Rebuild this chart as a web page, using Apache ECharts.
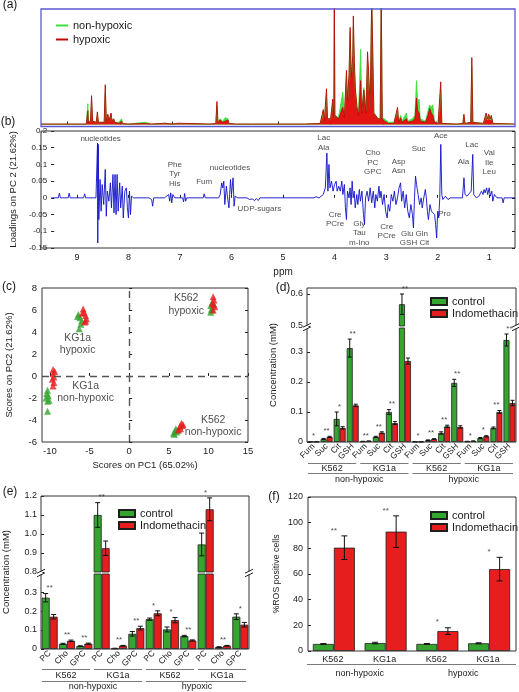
<!DOCTYPE html>
<html><head><meta charset="utf-8">
<script src="https://cdn.jsdelivr.net/npm/echarts@6/dist/echarts.min.js"></script>
<style>html,body{margin:0;padding:0;background:#fff}#c{width:519px;height:692px}</style>
</head><body><div id="c"></div>
<script>
// ---------------- DATA ----------------
const ppmTicks = [9, 8, 7, 6, 5, 4, 3, 2, 1];

// (a) mean NMR spectra, [ppm, relative intensity]
const spectrumNonHypoxic = [
 [9.5,0.004],[9.42,0.004],[9.4,0.012],[9.38,0.004],[9.22,0.004],[9.2,0.01],[9.18,0.004],[8.92,0.004],[8.9,0.01],[8.88,0.004],
 [8.64,0.004],[8.61,0.18],[8.6,0.03],[8.56,0.03],[8.54,0.2],[8.52,0.03],[8.45,0.02],[8.43,0.08],[8.41,0.02],[8.3,0.02],[8.28,0.28],[8.26,0.03],
 [8.23,0.08],[8.21,0.03],[8.17,0.09],[8.15,0.03],[8.12,0.05],[8.1,0.02],[8.02,0.02],[7.97,0.05],[7.95,0.01],[7.85,0.004],[7.52,0.02],[7.4,0.004],
 [7.2,0.01],[7.15,0.012],[7.0,0.004],[6.9,0.01],[6.5,0.006],[6.3,0.004],[6.18,0.01],[6.16,0.16],[6.14,0.02],[6.1,0.05],[6.05,0.03],[6.0,0.06],
 [5.95,0.05],[5.93,0.01],[5.8,0.004],[5.5,0.004],[5.0,0.004],[4.5,0.004],
 [4.2,0.01],[4.14,0.1],[4.12,0.03],[4.08,0.25],[4.06,0.05],[4.0,0.05],[3.96,0.2],[3.94,0.05],[3.93,1.1],[3.92,0.08],[3.85,0.06],[3.77,0.28],
 [3.74,0.08],[3.7,0.42],[3.68,0.2],[3.65,0.42],[3.63,0.8],[3.61,0.4],[3.58,0.55],[3.57,0.85],[3.55,0.5],[3.53,0.3],[3.5,0.15],[3.47,0.1],
 [3.43,0.65],[3.41,0.12],[3.37,0.32],[3.33,0.12],[3.3,0.55],[3.28,0.4],[3.25,0.15],[3.22,1.1],[3.2,1.1],[3.18,0.1],[3.1,0.05],[3.06,0.05],
 [3.04,1.1],[3.02,0.06],[2.98,0.05],[2.95,0.06],[2.9,0.02],[2.8,0.02],[2.73,0.12],[2.71,0.03],[2.67,0.08],[2.65,0.03],[2.56,0.1],[2.54,0.03],
 [2.45,0.05],[2.4,0.08],[2.37,0.38],[2.35,0.2],[2.32,0.22],[2.3,0.05],[2.2,0.03],[2.15,0.12],[2.12,0.17],[2.09,0.15],[2.06,0.17],[2.03,0.03],
 [1.96,0.01],[1.91,0.3],[1.89,0.01],[1.6,0.004],[1.49,0.01],[1.47,0.07],[1.45,0.01],[1.34,0.02],[1.32,0.5],[1.3,0.02],[1.1,0.01],[1.05,0.08],
 [1.02,0.04],[1.0,0.08],[0.97,0.04],[0.95,0.07],[0.92,0.01],[0.5,0.004]
];
const spectrumHypoxic = [
 [9.5,0.005],[9.42,0.005],[9.4,0.015],[9.38,0.005],[9.22,0.005],[9.2,0.012],[9.18,0.005],[8.92,0.005],[8.9,0.012],[8.88,0.005],
 [8.64,0.005],[8.61,0.12],[8.6,0.02],[8.56,0.03],[8.54,0.25],[8.52,0.03],[8.45,0.02],[8.43,0.11],[8.41,0.02],[8.3,0.02],[8.28,0.345],[8.26,0.03],
 [8.23,0.09],[8.21,0.03],[8.17,0.1],[8.15,0.03],[8.12,0.05],[8.1,0.02],[8.02,0.01],[7.97,0.03],[7.95,0.01],[7.85,0.005],[7.52,0.01],[7.4,0.005],
 [7.2,0.01],[7.15,0.012],[7.0,0.005],[6.9,0.012],[6.5,0.008],[6.3,0.005],[6.18,0.01],[6.16,0.2],[6.14,0.02],[6.1,0.04],[6.05,0.02],[6.0,0.03],
 [5.95,0.04],[5.93,0.01],[5.8,0.005],[5.5,0.005],[5.0,0.005],[4.5,0.005],
 [4.2,0.01],[4.14,0.13],[4.12,0.03],[4.08,0.31],[4.06,0.05],[4.0,0.05],[3.96,0.22],[3.94,0.05],[3.93,1.1],[3.92,0.08],[3.85,0.05],[3.77,0.15],
 [3.74,0.06],[3.7,0.47],[3.68,0.2],[3.65,0.45],[3.63,0.84],[3.61,0.4],[3.58,0.6],[3.57,0.94],[3.55,0.54],[3.53,0.3],[3.5,0.15],[3.47,0.08],
 [3.43,0.38],[3.41,0.1],[3.37,0.3],[3.33,0.1],[3.3,0.63],[3.28,0.46],[3.25,0.15],[3.22,1.1],[3.2,1.1],[3.18,0.1],[3.1,0.05],[3.06,0.05],
 [3.04,1.1],[3.02,0.05],[2.98,0.03],[2.95,0.04],[2.9,0.01],[2.8,0.01],[2.73,0.15],[2.71,0.02],[2.67,0.06],[2.65,0.02],[2.56,0.05],[2.54,0.02],
 [2.45,0.03],[2.4,0.05],[2.37,0.23],[2.35,0.12],[2.32,0.1],[2.3,0.03],[2.2,0.02],[2.15,0.08],[2.12,0.14],[2.09,0.1],[2.06,0.08],[2.03,0.02],
 [1.96,0.01],[1.91,0.37],[1.89,0.01],[1.6,0.005],[1.49,0.01],[1.47,0.09],[1.45,0.01],[1.34,0.02],[1.32,0.58],[1.3,0.02],[1.1,0.01],[1.05,0.1],
 [1.02,0.05],[1.0,0.09],[0.97,0.05],[0.95,0.08],[0.92,0.01],[0.5,0.005]
];

// (b) PC2 loadings, [ppm, loading]
const loadingsPC2 = [
 [9.5,0],[9.36,0],[9.34,0.014],[9.32,0],[9.17,0],[9.15,0.014],[9.13,0],[8.87,0],[8.85,0.012],[8.83,0],[8.63,0],[8.6,0.164],[8.595,-0.135],
 [8.585,0.16],[8.575,-0.065],[8.55,0.055],[8.53,-0.04],[8.51,0.04],[8.48,-0.02],[8.45,0.085],[8.43,-0.055],[8.41,0.02],[8.38,-0.01],[8.35,0.045],
 [8.33,-0.03],[8.3,0.07],[8.28,-0.045],[8.26,0.07],[8.24,-0.05],[8.22,0.07],[8.2,-0.04],[8.17,0.045],[8.15,-0.03],[8.12,0.035],[8.1,-0.06],
 [8.07,0.02],[8.04,0.03],[8.02,-0.03],[8.0,-0.06],[7.98,0.02],[7.96,-0.05],[7.94,0.005],[7.9,0],[7.6,0],[7.55,-0.005],[7.53,-0.025],[7.51,0],
 [7.3,0],[7.22,0.01],[7.2,-0.01],[7.18,0.015],[7.16,-0.015],[7.14,0.01],[7.1,0],[6.95,0],[6.93,-0.012],[6.91,0.013],[6.89,-0.01],[6.87,0],
 [6.55,0],[6.53,0.012],[6.51,0],[6.25,0],[6.22,0.01],[6.19,0.045],[6.17,0.03],[6.15,0.05],[6.13,-0.02],[6.1,0.035],[6.08,0.005],[6.05,-0.03],
 [6.02,0.055],[6.0,0.01],[5.97,0.06],[5.95,-0.025],[5.93,0.005],[5.88,0],[5.7,0],[5.65,-0.005],[5.6,-0.003],[5.55,-0.008],[5.52,-0.002],
 [5.48,-0.008],[5.45,0],[4.4,0],[4.36,0.003],[4.3,0],[4.22,0.01],[4.18,0.03],[4.15,0.134],[4.13,0.02],[4.11,0.1],[4.09,0.03],[4.06,0.05],
 [4.03,0.02],[4.0,0.04],[3.97,0.05],[3.95,0.02],[3.92,0.035],[3.89,0.02],[3.86,0.05],[3.84,0.01],[3.81,0.04],[3.79,-0.03],[3.77,-0.065],
 [3.75,0.02],[3.72,0.0],[3.7,0.03],[3.68,-0.02],[3.66,0.05],[3.64,0.0],[3.62,0.02],[3.6,-0.03],[3.57,0.01],[3.55,-0.02],[3.52,0.025],
 [3.5,-0.01],[3.47,0.02],[3.44,-0.05],[3.42,-0.08],[3.4,0.0],[3.37,0.02],[3.34,-0.01],[3.31,0.03],[3.28,-0.015],[3.25,0.02],[3.22,-0.03],
 [3.2,0.01],[3.17,-0.01],[3.14,0.035],[3.12,0.0],[3.1,0.02],[3.07,-0.02],[3.04,0.01],[3.01,-0.04],[2.98,-0.06],[2.96,-0.02],[2.93,-0.04],
 [2.9,0.01],[2.87,-0.01],[2.84,0.02],[2.81,-0.02],[2.78,0.0],[2.75,0.03],[2.72,0.045],[2.7,-0.01],[2.67,0.02],[2.64,-0.03],[2.61,0.01],
 [2.58,-0.04],[2.55,-0.06],[2.52,-0.02],[2.49,-0.05],[2.47,-0.09],[2.45,0.0],[2.43,0.065],[2.41,0.04],[2.38,0.01],[2.35,-0.02],[2.32,0.0],
 [2.3,-0.03],[2.27,0.0],[2.24,0.025],[2.22,0.0],[2.2,-0.04],[2.18,-0.065],[2.15,-0.02],[2.12,-0.04],[2.09,-0.035],[2.06,-0.05],[2.04,-0.08],
 [2.02,-0.12],[2.0,-0.04],[1.98,-0.06],[1.96,0.0],[1.94,0.16],[1.92,0.01],[1.9,-0.005],[1.85,0.005],[1.8,-0.005],[1.75,0],[1.52,0],
 [1.49,0.06],[1.47,0.01],[1.43,0.005],[1.4,0],[1.35,0.02],[1.32,0.13],[1.3,0.01],[1.25,0],[1.2,0.005],[1.15,0.02],[1.12,0.01],[1.1,0.025],
 [1.08,0.015],[1.05,0.03],[1.03,0.01],[1.0,0.03],[0.98,0.005],[0.95,0.02],[0.93,-0.01],[0.9,0.01],[0.85,0],[0.75,0],[0.73,-0.015],[0.71,0],[0.5,0]
];
const loadingLabels = [
 [8.54,0.178,'nucleotides'],[7.1,0.071,'Phe\nTyr\nHis'],[6.53,0.048,'Fum'],[6.03,0.089,'nucleotides'],[5.46,-0.033,'UDP-sugars'],
 [4.21,0.164,'Lac\nAla'],[3.99,-0.064,'Cre\nPCre'],[3.52,-0.106,'Gly\nTau\nm-Ino'],[3.26,0.105,'Cho\nPC\nGPC'],[2.99,-0.1,'Cre\nPCre'],
 [2.76,0.095,'Asp\nAsn'],[2.45,-0.121,'Glu Gln\nGSH Cit'],[2.37,0.148,'Suc'],[1.94,0.186,'Ace'],[1.87,-0.049,'Pro'],
 [1.5,0.108,'Ala'],[1.34,0.158,'Lac'],[1.0,0.105,'Val\nIle\nLeu']
];

// (c) PCA scores [PC1, PC2]
const scoresGreen = [
 [-6.4,5.6],[-6.2,5.3],[-6.0,5.0],[-6.1,4.7],[-6.3,4.3],[-6.5,5.4],
 [-10.3,-1.3],[-10.4,-1.6],[-10.2,-1.8],[-10.5,-2.0],[-10.1,-2.2],[-10.3,-2.3],[-10.3,-3.2],
 [10.3,5.8],[10.4,6.1],[10.3,6.4],[10.5,6.7],[10.4,6.0],
 [5.6,-5.2],[5.8,-5.0],[6.0,-5.1],[5.9,-4.8],[6.2,-4.9],[5.7,-5.3]
];
const scoresRed = [
 [-5.8,6.1],[-5.7,5.8],[-5.5,5.5],[-5.4,5.2],[-5.6,4.9],[-5.5,5.0],[-5.9,5.7],
 [-9.6,0.6],[-9.6,0.2],[-9.5,-0.1],[-9.7,-0.3],[-9.5,-0.6],[-9.6,-0.9],[-9.4,0.4],
 [10.6,7.2],[10.7,6.9],[10.5,6.6],[10.8,6.3],[10.6,6.0],[10.7,6.5],
 [6.6,-4.3],[6.7,-4.5],[6.4,-4.6],[6.5,-4.8],[6.2,-4.9],[6.8,-4.4]
];
const scoreLabels = [[7.2,6.5,'K562\nhypoxic'],[-6.5,2.9,'KG1a\nhypoxic'],[-5.5,-1.45,'KG1a\nnon-hypoxic'],[10.6,-4.55,'K562\nnon-hypoxic']];
const scoreTicksX = [-10, -5, 0, 5, 10, 15];

// (d) Fum/Suc/Cit/GSH concentrations (mM)
const dCats = ['Fum','Suc','Cit','GSH','Fum','Suc','Cit','GSH','Fum','Suc','Cit','GSH','Fum','Suc','Cit','GSH'];
const dControl    = [0.001,0.010,0.077,0.313, 0.002,0.017,0.100,0.568, 0.001,0.006,0.030,0.197, 0.002,0.013,0.047,0.340];
const dControlErr = [0.0005,0.002,0.023,0.030, 0.0005,0.002,0.008,0.032, 0.0005,0.001,0.004,0.012, 0.0005,0.002,0.003,0.020];
const dIndo       = [0.001,0.017,0.047,0.122, 0.003,0.031,0.063,0.270, 0.001,0.010,0.052,0.050, 0.003,0.019,0.100,0.130];
const dIndoErr    = [0.0005,0.002,0.004,0.004, 0.0005,0.003,0.005,0.010, 0.0005,0.001,0.004,0.004, 0.0005,0.002,0.005,0.009];
const dStars = ['*','**','*','**','**','**','**','**','*','**','**','**','*','*','**','**'];
const dTicksUpper = [0.5, 0.6];
const dTicksLower = [0, 0.1, 0.2, 0.3];

// (e) PC/Cho/GPC concentrations (mM)
const eCats = ['PC','Cho','GPC','PC','Cho','GPC','PC','Cho','GPC','PC','Cho','GPC'];
const eControl    = [0.27,0.027,0.015, 1.10,0.003,0.080, 0.157,0.103,0.068, 0.945,0.010,0.170];
const eControlErr = [0.022,0.003,0.002, 0.065,0.001,0.012, 0.006,0.013,0.004, 0.06,0.002,0.015];
const eIndo       = [0.17,0.043,0.028, 0.925,0.017,0.110, 0.188,0.152,0.045, 1.13,0.017,0.128];
const eIndoErr    = [0.012,0.004,0.003, 0.038,0.002,0.010, 0.013,0.014,0.003, 0.06,0.002,0.012];
const eStars = ['**','**','**','**','**','**','*','*','**','*','**','*'];
const eTicksUpper = [0.8, 0.9, 1.0, 1.1, 1.2];
const eTicksLower = [0, 0.1, 0.2, 0.3];

// (f) %ROS positive cells
const fCats = ['K562','KG1a','K562','KG1a'];
const fControl    = [5.5, 6.2, 5.5, 6.0];
const fControlErr = [0.3, 0.6, 0.3, 0.4];
const fIndo       = [80.5, 93, 15.5, 63.8];
const fIndoErr    = [9.2, 12.3, 2.6, 9.2];
const fStars = ['**','**','*','*'];

const cellLabels = ['K562','KG1a','K562','KG1a'];
const conditionLabels = ['non-hypoxic','hypoxic'];

// ---------------- LAYOUT / STYLE ----------------
const FONT = 'Liberation Sans, Arial, Helvetica, sans-serif';
const GREEN = '#35a530', RED = '#e61e1e', SPEC_G = '#3ee03e', SPEC_R = '#c00808', BLUE = '#1010c8';
const TXT = '#1a1a1a';
const L = {
  a:{left:41,top:9,width:474,height:117},
  b:{left:41,top:131,width:474,height:117},
  c:{left:42,top:288,width:206,height:154},
  dU:{left:307,top:294,width:209,height:32},
  dL:{left:307,top:328,width:209,height:114},
  eU:{left:41,top:496,width:208,height:76},
  eL:{left:41,top:574,width:208,height:75},
  f:{left:308,top:497,width:207,height:154}
};
const FRAME_D_TOP = 288;
const chart = echarts.init(document.getElementById('c'), null, {renderer:'canvas'});

function grid(r){ return {left:r.left, top:r.top, width:r.width, height:r.height, containLabel:false}; }
const tickIn = (len)=>({show:true, inside:true, length:len||3, lineStyle:{color:'#222'}});
const noLine = {show:false};

function catAxis(gi, cats, showLabels){
  return {type:'category', gridIndex:gi, data:cats, boundaryGap:true,
    axisLine:{show:false}, axisTick:{show:false},
    axisLabel: showLabels ? {show:true, interval:0, rotate:45, fontSize:8.5, margin:3, color:TXT, fontFamily:FONT} : {show:false},
    splitLine:{show:false}};
}
function valAxis(gi, min, max, ticks, fmt){
  return {type:'value', gridIndex:gi, min, max,
    axisLine:{show:false},
    axisTick:Object.assign(tickIn(3), {customValues:ticks}),
    axisLabel:{show:true, customValues:ticks, showMinLabel:true, showMaxLabel:true, hideOverlap:false,
      fontSize:9, color:TXT, margin:4, fontFamily:FONT, formatter:fmt},
    splitLine:{show:false}};
}

function barPair(xi, yi, ctrl, indo, w){
  const common = {type:'bar', xAxisIndex:xi, yAxisIndex:yi, barWidth:w, barGap:'0%', clip:true, silent:true};
  return [
    Object.assign({name:'control', data:ctrl, itemStyle:{color:GREEN, borderColor:'#1f1f1f', borderWidth:0.8}}, common),
    Object.assign({name:'Indomethacin', data:indo, itemStyle:{color:RED, borderColor:'#1f1f1f', borderWidth:0.8}}, common)
  ];
}
function errSeries(xi, yi, means, errs, offset, cap, lo, hi){
  return {type:'custom', xAxisIndex:xi, yAxisIndex:yi, silent:true, clip:false, z:5,
    data: means.map((m,i)=>[i, m, errs[i]]),
    renderItem(params, api){
      const i = api.value(0), m = api.value(1), e = api.value(2);
      if (m - e < lo - 1e-9 || m + e > hi + 1e-9) return null;
      const t = api.coord([i, m + e]), b = api.coord([i, m - e]);
      const x = t[0] + offset;
      const st = {stroke:'#111', lineWidth:1};
      return {type:'group', children:[
        {type:'line', shape:{x1:x, y1:t[1], x2:x, y2:b[1]}, style:st},
        {type:'line', shape:{x1:x-cap, y1:t[1], x2:x+cap, y2:t[1]}, style:st},
        {type:'line', shape:{x1:x-cap, y1:b[1], x2:x+cap, y2:b[1]}, style:st}
      ]};
    }};
}
function starSeries(xi, yi, ctrl, cErr, indo, iErr, stars, lo, hi){
  const data = [];
  stars.forEach((s,i)=>{
    const top = Math.max(ctrl[i]+cErr[i], indo[i]+iErr[i]);
    if (top >= lo && top <= hi) data.push({value:[i, top], name:s});
  });
  return {type:'scatter', xAxisIndex:xi, yAxisIndex:yi, silent:true, symbolSize:1, z:6,
    itemStyle:{color:'rgba(0,0,0,0)'}, data,
    label:{show:true, position:'top', distance:1, formatter:p=>p.name, fontSize:8, color:TXT, fontFamily:FONT}};
}
const fmt1 = v => v === 0 ? '0' : (+v).toFixed(1);

const option = {
  animation:false,
  textStyle:{fontFamily:FONT},
  grid:[grid(L.a), grid(L.b), grid(L.c), grid(L.dU), grid(L.dL), grid(L.eU), grid(L.eL), grid(L.f)],
  legend:[
    {data:['non-hypoxic','hypoxic'], left:51, top:15, orient:'vertical', icon:'rect', itemWidth:12, itemHeight:2, itemGap:3,
     textStyle:{fontSize:11, color:TXT}, selectedMode:false},
    {data:['control','Indomethacin'], left:425, top:291, orient:'vertical', icon:'rect', itemWidth:16, itemHeight:7, itemGap:1,
     textStyle:{fontSize:11, color:TXT}, selectedMode:false},
    {data:['control','Indomethacin'], left:113, top:503, orient:'vertical', icon:'rect', itemWidth:16, itemHeight:7, itemGap:1,
     textStyle:{fontSize:11, color:TXT}, selectedMode:false},
    {data:['control','Indomethacin'], left:425, top:505, orient:'vertical', icon:'rect', itemWidth:16, itemHeight:7, itemGap:1,
     textStyle:{fontSize:11, color:TXT}, selectedMode:false}
  ],
  xAxis:[
    {type:'value', gridIndex:0, min:0.5, max:9.5, inverse:true, axisLine:noLine,
     axisTick:Object.assign(tickIn(3), {customValues:ppmTicks}), axisLabel:{show:false}, splitLine:{show:false}},
    {type:'value', gridIndex:1, min:0.5, max:9.5, inverse:true, axisLine:noLine,
     axisTick:Object.assign(tickIn(3), {customValues:ppmTicks}),
     axisLabel:{show:true, customValues:ppmTicks, fontSize:9, color:TXT, margin:5}, splitLine:{show:false},
     name:'ppm', nameLocation:'middle', nameGap:19, nameTextStyle:{fontSize:10, color:TXT}},
    {type:'value', gridIndex:2, min:-11, max:15, axisLine:noLine,
     axisTick:Object.assign(tickIn(3), {customValues:scoreTicksX}),
     axisLabel:{show:true, customValues:scoreTicksX, fontSize:9.5, color:TXT, margin:4}, splitLine:{show:false},
     name:'Scores on PC1 (65.02%)', nameLocation:'middle', nameGap:18, nameTextStyle:{fontSize:9.5, color:TXT}},
    catAxis(3, dCats, false),
    catAxis(4, dCats, true),
    catAxis(5, eCats, false),
    catAxis(6, eCats, true),
    {type:'category', gridIndex:7, data:fCats, axisLine:noLine, axisTick:{show:false}, axisLabel:{show:false}, splitLine:{show:false}}
  ],
  yAxis:[
    {type:'value', gridIndex:0, min:-0.012, max:1, show:false, splitLine:{show:false}},
    {type:'value', gridIndex:1, min:-0.15, max:0.2, interval:0.05, axisLine:noLine, axisTick:tickIn(3),
     axisLabel:{fontSize:8, color:TXT, margin:4}, splitLine:{show:false},
     name:'Loadings on PC 2 (21.62%)', nameLocation:'middle', nameGap:29, nameTextStyle:{fontSize:9.5, color:TXT}},
    {type:'value', gridIndex:1, position:'right', min:-0.15, max:0.2, interval:0.05, axisLine:noLine, axisTick:tickIn(3),
     axisLabel:{show:false}, splitLine:{show:false}},
    {type:'value', gridIndex:2, min:-6, max:8, interval:2, axisLine:noLine, axisTick:tickIn(3),
     axisLabel:{fontSize:9.5, color:TXT, margin:5}, splitLine:{show:false},
     name:'Scores on PC2 (21.62%)', nameLocation:'middle', nameGap:28, nameTextStyle:{fontSize:9.5, color:TXT}},
    {type:'value', gridIndex:2, position:'right', min:-6, max:8, interval:2, axisLine:noLine, axisTick:tickIn(3),
     axisLabel:{show:false}, splitLine:{show:false}},
    valAxis(3, 0.5, 0.6, dTicksUpper, v => (+v).toFixed(1)),
    valAxis(4, 0, 0.38, dTicksLower, fmt1),
    valAxis(5, 0.8, 1.2, eTicksUpper, fmt1),
    valAxis(6, 0, 0.395, eTicksLower, fmt1),
    {type:'value', gridIndex:7, min:0, max:120, interval:20, axisLine:noLine, axisTick:tickIn(3),
     axisLabel:{fontSize:9, color:TXT, margin:5}, splitLine:{show:false},
     name:'%ROS positive cells', nameLocation:'middle', nameGap:27, nameTextStyle:{fontSize:8.8, color:TXT}}
  ],
  series:[
    // (a)
    {name:'non-hypoxic', type:'line', xAxisIndex:0, yAxisIndex:0, data:spectrumNonHypoxic, showSymbol:false, silent:true,
     color:SPEC_G, lineStyle:{width:0.9, color:SPEC_G}, areaStyle:{color:'#48e048', opacity:1}, clip:true},
    {name:'hypoxic', type:'line', xAxisIndex:0, yAxisIndex:0, data:spectrumHypoxic, showSymbol:false, silent:true,
     color:SPEC_R, lineStyle:{width:0.9, color:SPEC_R}, areaStyle:{color:'#e21414', opacity:1}, clip:true},
    // (b)
    {type:'line', xAxisIndex:1, yAxisIndex:1, data:loadingsPC2, showSymbol:false, silent:true,
     lineStyle:{width:0.9, color:BLUE}},
    {type:'scatter', xAxisIndex:1, yAxisIndex:1, silent:true, symbolSize:1, itemStyle:{color:'rgba(0,0,0,0)'},
     data:loadingLabels.map(l=>({value:[l[0], l[1]], name:l[2]})),
     label:{show:true, position:'inside', formatter:p=>p.name, fontSize:8, lineHeight:9.5, color:TXT, align:'center'}},
    // (c)
    {type:'scatter', xAxisIndex:2, yAxisIndex:3, silent:true, symbol:'triangle', symbolSize:7, data:scoresGreen,
     itemStyle:{color:GREEN},
     markLine:{silent:true, symbol:'none', label:{show:false}, animation:false,
       lineStyle:{type:[7,5], color:'#555', width:1.4}, data:[{xAxis:0},{yAxis:0}]}},
    {type:'scatter', xAxisIndex:2, yAxisIndex:3, silent:true, symbol:'triangle', symbolSize:7, data:scoresRed,
     itemStyle:{color:RED}},
    {type:'scatter', xAxisIndex:2, yAxisIndex:3, silent:true, symbolSize:1, itemStyle:{color:'rgba(0,0,0,0)'},
     data:scoreLabels.map(l=>({value:[l[0], l[1]], name:l[2]})),
     label:{show:true, position:'inside', formatter:p=>p.name, fontSize:10.5, lineHeight:12.5, color:TXT, align:'center'}},
    // (d)
    ...barPair(3, 5, dControl, dIndo, 6),
    errSeries(3, 5, dControl, dControlErr, -3, 2, 0.5, 0.62),
    errSeries(3, 5, dIndo, dIndoErr, 3, 2, 0.5, 0.62),
    starSeries(3, 5, dControl, dControlErr, dIndo, dIndoErr, dStars, 0.5, 0.62),
    ...barPair(4, 6, dControl, dIndo, 6),
    errSeries(4, 6, dControl, dControlErr, -3, 2, 0, 0.38),
    errSeries(4, 6, dIndo, dIndoErr, 3, 2, 0, 0.38),
    starSeries(4, 6, dControl, dControlErr, dIndo, dIndoErr, dStars, 0, 0.38),
    // (e)
    ...barPair(5, 7, eControl, eIndo, 8),
    errSeries(5, 7, eControl, eControlErr, -4, 2.5, 0.8, 1.2),
    errSeries(5, 7, eIndo, eIndoErr, 4, 2.5, 0.8, 1.2),
    starSeries(5, 7, eControl, eControlErr, eIndo, eIndoErr, eStars, 0.8, 1.2),
    ...barPair(6, 8, eControl, eIndo, 8),
    errSeries(6, 8, eControl, eControlErr, -4, 2.5, 0, 0.395),
    errSeries(6, 8, eIndo, eIndoErr, 4, 2.5, 0, 0.395),
    starSeries(6, 8, eControl, eControlErr, eIndo, eIndoErr, eStars, 0, 0.395),
    // (f)
    ...barPair(7, 9, fControl, fIndo, 21),
    errSeries(7, 9, fControl, fControlErr, -10.5, 3, 0, 120),
    errSeries(7, 9, fIndo, fIndoErr, 10.5, 3, 0, 120),
    starSeries(7, 9, fControl, fControlErr, fIndo, fIndoErr, fStars, 0, 120)
  ]
};
chart.setOption(option);

// ---------------- decorations (frames, group labels, panel letters) ----------------
const G = [];
function frame(x, y, w, h, color, lw){
  G.push({type:'rect', silent:true, z:50, shape:{x, y, width:w, height:h}, style:{fill:null, stroke:color, lineWidth:lw||1}});
}
function text(x, y, s, size, opts){
  G.push(Object.assign({type:'text', silent:true, z:60, x, y,
    style:{text:s, fontSize:size, fontFamily:FONT, fill:TXT, align:'center', verticalAlign:'middle'}}, opts||{}));
}
function hline(x1, x2, y){
  G.push({type:'line', silent:true, z:60, shape:{x1, y1:y, x2, y2:y}, style:{stroke:'#7a7a7a', lineWidth:1}});
}
function breakMark(x, y){
  G.push({type:'rect', silent:true, z:55, shape:{x:x-1.5, y:y-1.5, width:3, height:3}, style:{fill:'#fff'}});
  [-1.8, 1.8].forEach(d=>{
    G.push({type:'line', silent:true, z:61, shape:{x1:x-4, y1:y+d+2, x2:x+4, y2:y+d-2}, style:{stroke:'#222', lineWidth:1}});
  });
}
frame(L.a.left, L.a.top, L.a.width, L.a.height + 0.5, '#5a5ad2', 1.3);
frame(L.b.left, L.b.top, L.b.width, L.b.height, '#333', 1);
frame(L.c.left, L.c.top, L.c.width, L.c.height, '#333', 1);
frame(L.dU.left, FRAME_D_TOP, L.dU.width, L.dL.top + L.dL.height - FRAME_D_TOP, '#333', 1);
frame(L.eU.left, L.eU.top, L.eU.width, L.eL.top + L.eL.height - L.eU.top, '#333', 1);
frame(L.f.left, L.f.top, 208, L.f.height, '#333', 1);
breakMark(L.dU.left, L.dU.top + L.dU.height + 1);
breakMark(L.dU.left + L.dU.width, L.dU.top + L.dU.height + 1);
breakMark(L.eU.left, L.eU.top + L.eU.height + 1);
breakMark(L.eU.left + L.eU.width, L.eU.top + L.eU.height + 1);

function groupDecor(xAxisIndex, n, perCell, rows){
  const c0 = chart.convertToPixel({xAxisIndex}, 0);
  const c1 = chart.convertToPixel({xAxisIndex}, 1);
  const bw = c1 - c0;
  const start = i => c0 - bw/2 + i*bw;
  const nCell = n / perCell;
  for (let g = 0; g < nCell; g++){
    const a = start(g*perCell), b = start((g+1)*perCell);
    if (rows.line1 != null) hline(a + 1, b - 3, rows.line1);
    text((a + b)/2 - 1, rows.t1, cellLabels[g], rows.fs1);
  }
  for (let g = 0; g < 2; g++){
    const a = start(g*n/2), b = start((g+1)*n/2);
    hline(a + rows.l2a, b - rows.l2b, rows.line2);
    text((a + b)/2, rows.t2, conditionLabels[g], rows.fs2);
  }
}
groupDecor(4, dCats.length, 4, {line1:463.5, t1:468.5, line2:473.5, t2:479.5, fs1:9, fs2:9, l2a:1, l2b:3});
groupDecor(6, eCats.length, 3, {line1:669.5, t1:675.5, line2:681.5, t2:687, fs1:9, fs2:9, l2a:1, l2b:3});
groupDecor(7, fCats.length, 1, {line1:null, t1:659.5, line2:664.5, t2:673.5, fs1:9, fs2:9, l2a:-1, l2b:-1});

text(273, 365, 'Concentration (mM)', 9.5, {rotation:Math.PI/2});
text(6, 572, 'Concentration (mM)', 9.5, {rotation:Math.PI/2});

[['(a)',10,5],['(b)',8,122],['(c)',9,287],['(d)',283,288],['(e)',10,492],['(f)',274,497]].forEach(p=>text(p[1], p[2], p[0], 12));

chart.setOption({graphic:G});
</script></body></html>
